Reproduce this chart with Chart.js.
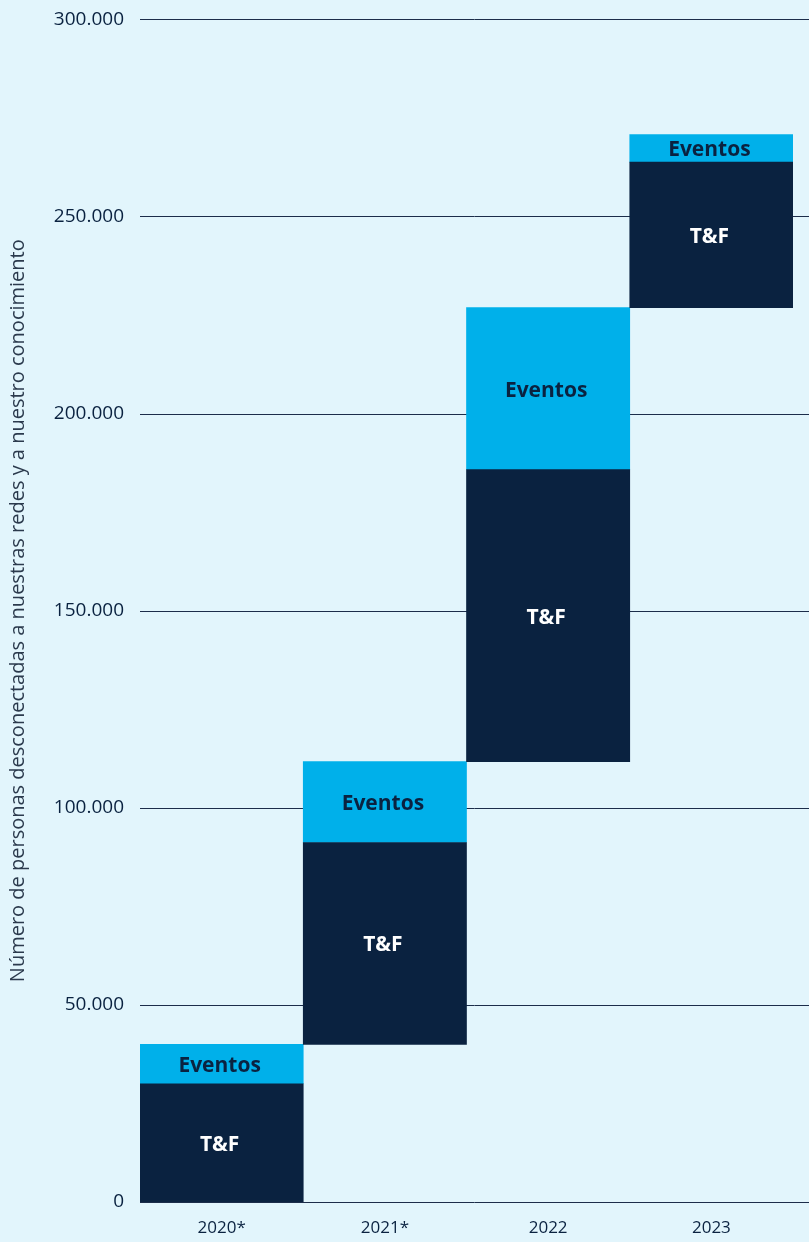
<!DOCTYPE html>
<html>
<head>
<meta charset="utf-8">
<script src="https://cdn.jsdelivr.net/npm/chart.js@4.4.1/dist/chart.umd.min.js"></script>
<style>
  html, body { margin: 0; padding: 0; background: #e2f5fc; }
  #wrap { width: 809px; height: 1242px; position: relative; }
</style>
</head>
<body>
<div id="wrap"><canvas id="chart"></canvas></div>
<script>
// years on the x axis
const years = ['2020*', '2021*', '2022', '2023'];
// T&F segment: [start, end] per year
const tfRanges = [[0, 30000], [40000, 91200], [111700, 185800], [226900, 263800]];
// Eventos segment: [start, end] per year
const eventosRanges = [[30000, 40000], [91200, 111700], [185800, 226900], [263800, 270800]];
const yTicks = [0, 50000, 100000, 150000, 200000, 250000, 300000];
const yTitle = 'Número de personas desconectadas a nuestras redes y a nuestro conocimiento';

const NAVY = '#0a2240';
const SKY = '#00b0ea';

const fmt = v => String(v).replace(/\B(?=(\d{3})+(?!\d))/g, '.');

// gridlines run past the last bar up to the canvas edge
const gridPlugin = {
  id: 'wideGrid',
  beforeDatasetsDraw(chart) {
    const { ctx, scales: { y }, chartArea } = chart;
    ctx.save();
    ctx.strokeStyle = '#1c2d4a';
    ctx.lineWidth = 1;
    yTicks.forEach(t => {
      const py = Math.round(y.getPixelForValue(t)) + 0.5;
      ctx.beginPath();
      ctx.moveTo(chartArea.left, py);
      ctx.lineTo(chart.width, py);
      ctx.stroke();
    });
    ctx.restore();
  }
};

// labels inside the bars
const labelPlugin = {
  id: 'barLabels',
  afterDatasetsDraw(chart) {
    const { ctx } = chart;
    ctx.save();
    ctx.font = 'bold 21px "Open Sans"';
    ctx.textAlign = 'center';
    ctx.textBaseline = 'middle';
    chart.data.datasets.forEach((ds, i) => {
      chart.getDatasetMeta(i).data.forEach(bar => {
        const top = Math.min(bar.y, bar.base);
        const bot = Math.max(bar.y, bar.base);
        ctx.fillStyle = ds.labelColor;
        ctx.fillText(ds.label, bar.x - 2, (top + bot) / 2 + 2);
      });
    });
    ctx.restore();
  }
};

new Chart(document.getElementById('chart'), {
  type: 'bar',
  data: {
    labels: years,
    datasets: [
      { label: 'T&F', data: tfRanges, backgroundColor: NAVY, labelColor: '#ffffff' },
      { label: 'Eventos', data: eventosRanges, backgroundColor: SKY, labelColor: NAVY }
    ]
  },
  options: {
    responsive: true,
    maintainAspectRatio: false,
    animation: false,
    layout: { padding: { top: 12, right: 16, left: 0, bottom: 0 } },
    datasets: { bar: { barPercentage: 1, categoryPercentage: 1, borderSkipped: false } },
    plugins: { legend: { display: false }, tooltip: { enabled: false } },
    scales: {
      x: {
        stacked: true,
        grid: { display: false },
        border: { display: false },
        ticks: { color: NAVY, font: { family: 'Open Sans', size: 17 }, padding: 8 },
        afterFit: s => { s.height = 40; }
      },
      y: {
        min: 0,
        max: 300000,
        grid: { display: false },
        border: { display: false },
        afterBuildTicks: s => { s.ticks = yTicks.map(v => ({ value: v })); },
        ticks: { color: NAVY, font: { family: 'Open Sans', size: 19 }, padding: 8, callback: v => fmt(v) },
        title: {
          display: true,
          text: yTitle,
          color: '#2b3a4d',
          font: { family: 'Open Sans', size: 20 },
          padding: { top: 6, bottom: 0 }
        },
        afterFit: s => { s.width = 140; }
      }
    }
  },
  plugins: [gridPlugin, labelPlugin]
});
</script>
</body>
</html>
